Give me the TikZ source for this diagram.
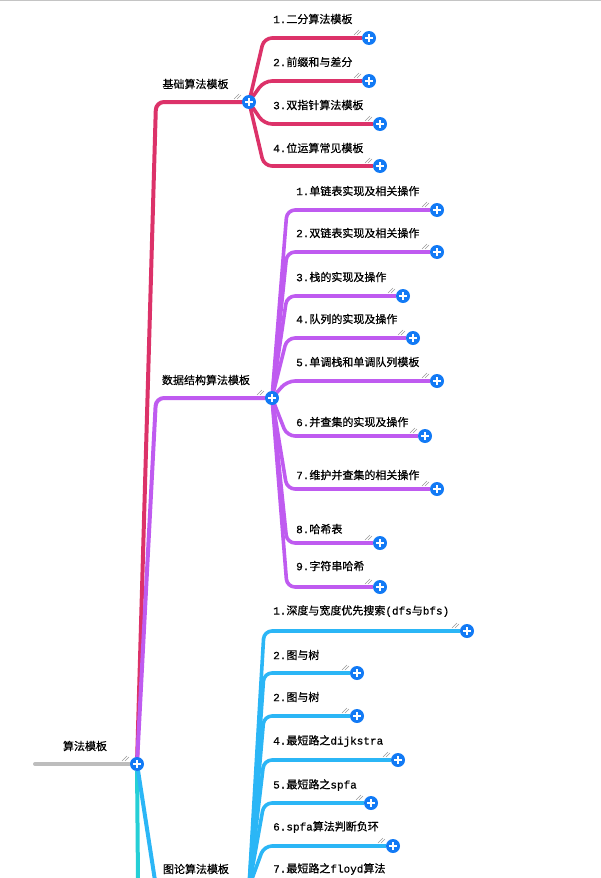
\documentclass[tikz,border=0pt]{standalone}
\usepackage{fontspec}
\setmainfont{Noto Sans CJK SC}[FakeBold=0.6]
\newfontfamily\monof{Liberation Mono}[FakeBold=0.6]
\usepackage{tikz}
\usetikzlibrary{calc}
\usetikzlibrary{backgrounds}
\usepackage{xcolor}

\definecolor{crimsonline}{HTML}{DC3269}
\definecolor{purpleline}{HTML}{BF5BF0}
\definecolor{cyanline}{HTML}{2BB6F6}
\definecolor{tealline}{HTML}{25CFD6}
\definecolor{rootgray}{HTML}{BDBDBD}
\definecolor{plusblue}{HTML}{127AF5}

\newcommand{\grip}[1]{%
\draw[gripline] ([shift={(-15,-3)}]#1.center)--++(5,-5);
\draw[gripline] ([shift={(-12,-3)}]#1.center)--++(4,-4);}
\newcommand{\num}[1]{{\monof #1}}

\begin{document}
\begin{tikzpicture}[x=1pt,y=-1pt,
plusbtn/.style={circle,fill=plusblue,minimum size=14pt,inner sep=0pt,
  path picture={
  \draw[white,line width=2pt] ([xshift=-4pt]path picture bounding box.center)--([xshift=4pt]path picture bounding box.center);
  \draw[white,line width=2pt] ([yshift=-4pt]path picture bounding box.center)--([yshift=4pt]path picture bounding box.center);}},
lbl/.style={right,inner sep=0pt,font=\fontsize{11}{13}\selectfont,text=black},
toplbl/.style={inner sep=0pt,font=\fontsize{11}{13}\selectfont,text=black},
gripline/.style={draw=gray!80,line width=0.5pt},
limbpen/.style={line width=4pt,line cap=round,rounded corners=8pt},
twigpen/.style={line width=3.6pt,line cap=round,rounded corners=8pt},
limb/.style={to path={-- ($(\tikztostart |- \tikztotarget)+(19,0)$) -- (\tikztotarget)}},
twig/.style={to path={-- ($(\tikztostart |- \tikztotarget)+(15,0)$) -- (\tikztotarget)}}
]

\useasboundingbox (0,0) rectangle (601,878);
\clip (0,0) rectangle (601,878);

% top border
\draw[rootgray!90,line width=1.5pt] (0,0.5)--(601,0.5);

% root
\coordinate (algstart) at (35,764);
\coordinate (nextbr) at (139,1000);
\node[plusbtn] (alg) at (137,764) {};
\node[toplbl] (algt) at (85,746) {算法模板};
\grip{alg}

%%%% branch 1
\begin{scope}
\node[plusbtn] (basic) at (249,102) {};
\node[toplbl] (basict) at (195.5,84) {基础算法模板};

\node[plusbtn] (basic1) at (369,38) {};
\node[plusbtn] (basic2) at (369,81) {};
\node[plusbtn] (basic3) at (380,124) {};
\node[plusbtn] (basic4) at (380,166) {};

% nodes
\node[lbl] (basic1t) at (273,19) {\num{1.}二分算法模板};
\node[lbl] (basic2t) at (273,62) {\num{2.}前缀和与差分};
\node[lbl] (basic3t) at (273,105) {\num{3.}双指针算法模板};
\node[lbl] (basic4t) at (273,148) {\num{4.}位运算常见模板};

\grip{basic}
\grip{basic1}
\grip{basic2}
\grip{basic3}
\grip{basic4}
\end{scope}

%%%% branch 2
\begin{scope}
\node[plusbtn] (ds) at (272,398) {};
\node[toplbl] (dst) at (206,380) {数据结构算法模板};

\node[plusbtn] (ds1) at (437,210) {};
\node[plusbtn] (ds2) at (437,252) {};
\node[plusbtn] (ds3) at (403,296) {};
\node[plusbtn] (ds4) at (413,338) {};
\node[plusbtn] (ds5) at (437,381) {};
\node[plusbtn] (ds6) at (425,436) {};
\node[plusbtn] (ds7) at (437,489) {};
\node[plusbtn] (ds8) at (380,543) {};
\node[plusbtn] (ds9) at (380,587) {};

% nodes
\node[lbl] (ds1t) at (296,191) {\num{1.}单链表实现及相关操作};
\node[lbl] (ds2t) at (296,233) {\num{2.}双链表实现及相关操作};
\node[lbl] (ds3t) at (296,277) {\num{3.}栈的实现及操作};
\node[lbl] (ds4t) at (296,319) {\num{4.}队列的实现及操作};
\node[lbl] (ds5t) at (296,362) {\num{5.}单调栈和单调队列模板};
\node[lbl] (ds6t) at (296,422) {\num{6.}并查集的实现及操作};
\node[lbl] (ds7t) at (296,475) {\num{7.}维护并查集的相关操作};
\node[lbl] (ds8t) at (296,529) {\num{8.}哈希表};
\node[lbl] (ds9t) at (296,566) {\num{9.}字符串哈希};

\grip{ds}
\grip{ds1}
\grip{ds2}
\grip{ds3}
\grip{ds4}
\grip{ds5}
\grip{ds6}
\grip{ds7}
\grip{ds8}
\grip{ds9}
\end{scope}

%%%% branch 3
\begin{scope}
\node[plusbtn] (graph) at (249,887) {};
\node[toplbl] (grapht) at (196,869) {图论算法模板};

\node[plusbtn] (graph1) at (467,631) {};
\node[plusbtn] (graph2) at (357,673) {};
\node[plusbtn] (graph3) at (357,716) {};
\node[plusbtn] (graph4) at (398,760) {};
\node[plusbtn] (graph5) at (371,803) {};
\node[plusbtn] (graph6) at (393,846) {};
\node[plusbtn] (graph7) at (420,889) {};

% nodes
\node[lbl] (graph1t) at (273,611) {\num{1.}深度与宽度优先搜索\num{(dfs}与\num{bfs)}};
\node[lbl] (graph2t) at (273,655) {\num{2.}图与树};
\node[lbl] (graph3t) at (273,697) {\num{2.}图与树};
\node[lbl] (graph4t) at (273,741) {\num{4.}最短路之\num{dijkstra}};
\node[lbl] (graph5t) at (273,785) {\num{5.}最短路之\num{spfa}};
\node[lbl] (graph6t) at (273,827) {\num{6.spfa}算法判断负环};
\node[lbl] (graph7t) at (273,869) {\num{7.}最短路之\num{floyd}算法};

\grip{graph1}
\grip{graph2}
\grip{graph3}
\grip{graph4}
\grip{graph5}
\grip{graph6}
\end{scope}

%connectors
\begin{scope}[on background layer]
\draw[rootgray,line width=4pt,line cap=round] (algstart)--(alg);

\draw[crimsonline,limbpen] (alg) to[limb] (basic);
\draw[purpleline,limbpen] (alg) to[limb] (ds);
\draw[tealline,line width=4pt] (alg)--(nextbr);
\draw[cyanline,limbpen] (alg) to[limb] (graph);

\draw[crimsonline,twigpen] (basic) to[twig] (basic1);
\draw[crimsonline,twigpen] (basic) to[twig] (basic2);
\draw[crimsonline,twigpen] (basic) to[twig] (basic3);
\draw[crimsonline,twigpen] (basic) to[twig] (basic4);

\draw[purpleline,twigpen] (ds) to[twig] (ds1);
\draw[purpleline,twigpen] (ds) to[twig] (ds2);
\draw[purpleline,twigpen] (ds) to[twig] (ds3);
\draw[purpleline,twigpen] (ds) to[twig] (ds4);
\draw[purpleline,twigpen] (ds) to[twig] (ds5);
\draw[purpleline,twigpen] (ds) to[twig] (ds6);
\draw[purpleline,twigpen] (ds) to[twig] (ds7);
\draw[purpleline,twigpen] (ds) to[twig] (ds8);
\draw[purpleline,twigpen] (ds) to[twig] (ds9);

\draw[cyanline,twigpen] (graph) to[twig] (graph1);
\draw[cyanline,twigpen] (graph) to[twig] (graph2);
\draw[cyanline,twigpen] (graph) to[twig] (graph3);
\draw[cyanline,twigpen] (graph) to[twig] (graph4);
\draw[cyanline,twigpen] (graph) to[twig] (graph5);
\draw[cyanline,twigpen] (graph) to[twig] (graph6);
\draw[cyanline,twigpen] (graph) to[twig] (graph7);
\end{scope}

\end{tikzpicture}
\end{document}
